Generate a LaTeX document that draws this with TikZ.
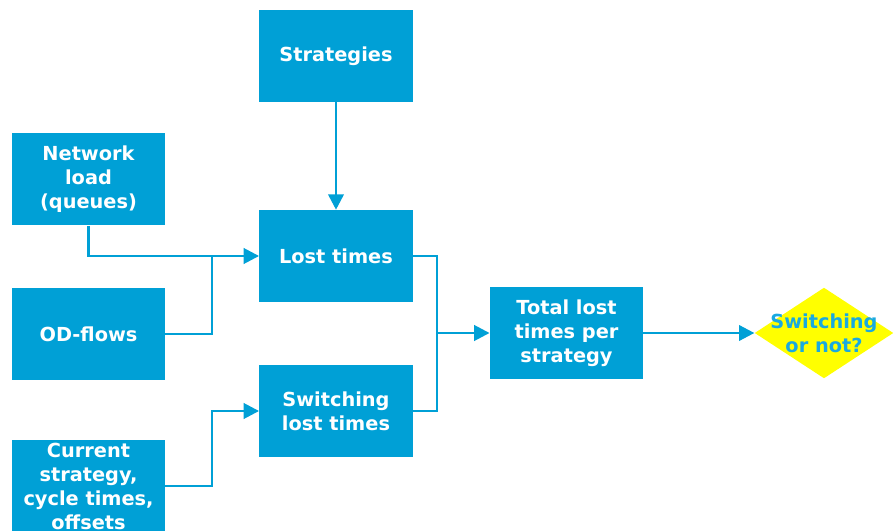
\documentclass[tikz,border=0pt]{standalone}
\usepackage{fontspec}
\setmainfont{DejaVu Sans}
\usetikzlibrary{arrows.meta,shapes.geometric}
\definecolor{boxblue}{HTML}{00A0D6}
\definecolor{decyellow}{HTML}{FFFF00}
\definecolor{dectext}{HTML}{19A9E0}
\tikzset{
  stepbox/.style={rectangle, fill=boxblue, text=white, inner sep=0pt,
    minimum width=115pt, minimum height=69pt, align=center,
    font=\fontsize{14.5}{18}\selectfont\bfseries},
  decision/.style={diamond, fill=decyellow, inner sep=0pt,
    minimum width=104pt, minimum height=68pt},
  decisiontext/.style={text=dectext, align=center, inner sep=0pt,
    font=\fontsize{14.5}{18}\selectfont\bfseries},
  flow/.style={draw=boxblue, line width=2pt},
  flowarrow/.style={flow, -{Triangle[length=11.5pt, width=11.5pt]}}
}
\begin{document}
\begin{tikzpicture}[x=0.75pt, y=-0.75pt]
  \useasboundingbox (0,0) rectangle (894,531);

  % input and processing boxes
  \node[stepbox] (strat) at (336,56)    {Strategies};
  \node[stepbox] (net)   at (88.5,179.5) {Network\\load\\(queues)};
  \node[stepbox] (lost)  at (336,256)   {Lost times};
  \node[stepbox] (od)    at (88.5,334)  {OD-flows};
  \node[stepbox] (sw)    at (336,411)   {Switching\\lost times};
  \node[stepbox] (cur)   at (88.5,486)  {Current\\strategy,\\cycle times,\\offsets};
  \node[stepbox] (tot)   at (566.5,333) {Total lost\\times per\\strategy};

  % final decision
  \node[decision] (dec) at (824,333) {};
  \node[decisiontext] (dect) at (dec) {Switching\\or not?};

  % junction points of the orthogonal connectors
  \coordinate (j1) at (212,256);
  \coordinate (j2) at (212,411);
  \coordinate (j3) at (437,333);

  % connectors
  \draw[flowarrow] (strat) -- (lost);
  \draw[flowarrow] (net.south) |- (lost.west);
  \draw[flow] (od.east) -| (j1);
  \draw[flowarrow] (cur.east) -| (j2) -- (sw.west);
  \draw[flow] (lost.east) -| (j3);
  \draw[flow] (sw.east) -| (j3);
  \draw[flowarrow] (j3) -- (tot.west);
  \draw[flowarrow] (tot.east) -- (dec.west);
\end{tikzpicture}
\end{document}
